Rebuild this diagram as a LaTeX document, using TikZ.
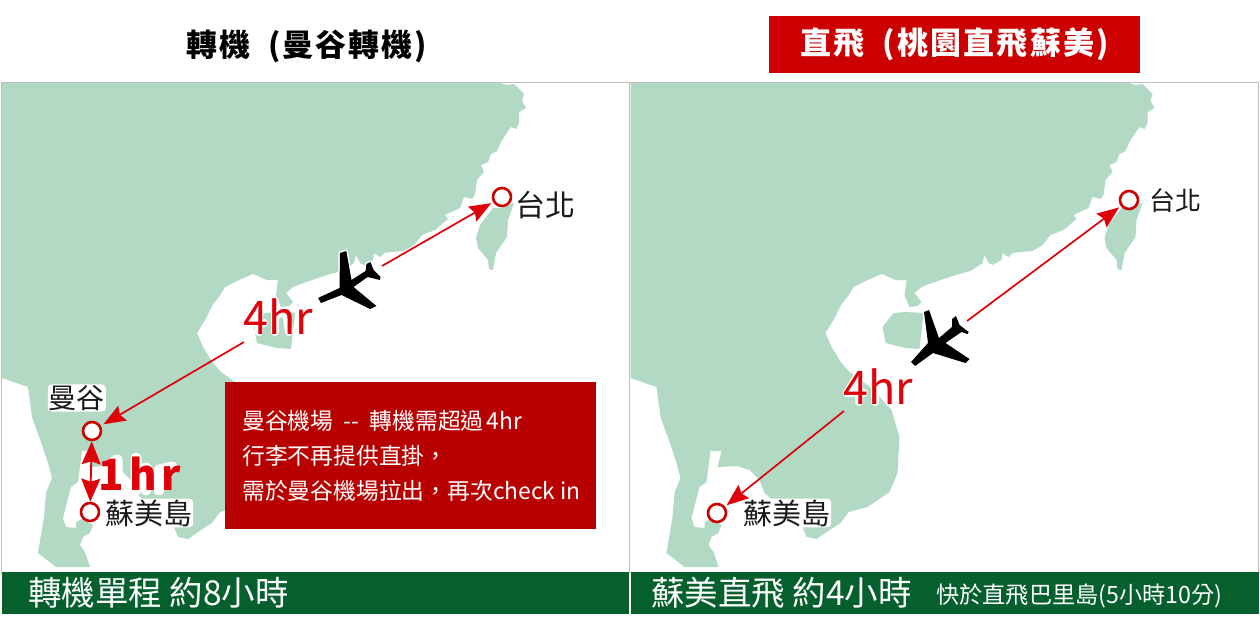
\documentclass[tikz,border=0pt]{standalone}
\usepackage{fontspec}
\setmainfont{Noto Sans CJK TC}[Script=CJK,Language=Chinese Traditional]
\definecolor{LandGreen}{RGB}{178,217,196}
\definecolor{BarGreen}{RGB}{5,96,45}
\definecolor{BoxRed}{RGB}{185,0,0}
\definecolor{HeadRed}{RGB}{204,0,0}
\definecolor{LineRed}{RGB}{224,0,10}
\definecolor{PanelGray}{RGB}{190,190,190}
\usetikzlibrary{arrows.meta}
\newcommand{\fsize}[1]{\fontsize{#1}{#1}\selectfont}
\newcommand{\maplandA}{
  \fill[LandGreen] (2,83) -- (500,83) -- (507,85) -- (514,84) -- (524,94) -- (522,101) -- (526,108)
    -- (519,112) -- (519,123) -- (516,129) -- (511,127) -- (502,140) -- (497,151) -- (491,154)
    -- (488,162) -- (481,165) -- (484,172) -- (477,180) -- (475,195) -- (472,199) -- (464,197)
    -- (460,208) -- (445,215) -- (448,219) -- (435,230) -- (422,235) -- (414,245) -- (404,251)
    -- (392,252) -- (384,253) -- (380,257) -- (374,253) -- (373,260) -- (364,265) -- (360,263)
    -- (356,255) -- (354,263) -- (342,271) -- (327,275) -- (309,281) -- (293,287) -- (286,293)
    -- (293,302) -- (289,306) -- (281,307) -- (276,295) -- (278,280) -- (267,280) -- (253,274)
    -- (237,281) -- (225,287) -- (219,297) -- (213,304) -- (205,320) -- (197,333) -- (203,347)
    -- (213,363) -- (221,372) -- (243,388) -- (263,410) -- (271,437) -- (269,473) -- (261,492)
    -- (239,507) -- (220,512) -- (212,523) -- (201,530) -- (188,539) -- (178,537) -- (174,527) -- (136,493)
    -- (131,480) -- (121,470) -- (109,466) -- (89,467) -- (93,451) -- (82,451) -- (78,482) -- (71,487)
    -- (63,518) -- (66,527) -- (76,528) -- (76,522) -- (82,519) -- (93,525) -- (90,533) -- (83,537)
    -- (80,545) -- (85,552) -- (90,567) -- (56,567) -- (38,553) -- (44,517) -- (46,493) -- (52,478)
    -- (48,463) -- (41,442) -- (32,417) -- (28,387) -- (2,378) -- cycle;
  % Hainan, Taiwan
  \fill[LandGreen] (265,313) -- (277,312) -- (295,313) -- (291,349) -- (277,348) -- (257,343) -- (254,327) -- cycle;
  \fill[LandGreen] (493,208) -- (501,208) -- (514,203) -- (508,220) -- (507,237) -- (496,253) -- (493,270)
    -- (489,269) -- (488,260) -- (478,248) -- (476,238) -- (480,225) -- cycle;
}
\newcommand{\fourhalo}{
  \draw[hrhalo] (259,303) -- (247,323) -- (264,323) (259,303) -- (259,332)
    (275,301) -- (275,332) (275,315) -- (286,312) -- (289,332) (302,332) -- (302,314) -- (311,312);
}
\tikzset{
  panelline/.style={draw=PanelGray,line width=0.8pt},
  headtext/.style={font=\fsize{31}\bfseries\addfontfeatures{LetterSpace=6},text=black,inner sep=0pt},
  headbox/.style={fill=HeadRed,text=white,font=\fsize{31}\bfseries\addfontfeatures{LetterSpace=7},minimum width=371,minimum height=57,inner sep=0pt},
  barcell/.style={fill=BarGreen,minimum width=#1,minimum height=42,inner sep=0pt},
  bartext/.style={text=white,anchor=west,inner sep=0pt},
  notebox/.style={fill=BoxRed,text=white,font=\fontsize{22.8}{35}\selectfont,minimum width=371,minimum height=147,
    inner sep=0pt,align=left},
  citylabel/.style={fill=white,rounded corners=4pt,inner sep=1pt,text=black!90},
  stopdot/.style={circle,draw=HeadRed,fill=white,line width=2.6pt,minimum size=18,inner sep=0pt},
  hrlabel/.style={text=LineRed,inner sep=0pt},
  hrhalo/.style={draw=white,line width=8pt,line cap=round,line join=round},
  flight/.style={draw=LineRed,line width=1.7pt,-{Stealth[length=22,width=17,inset=3]},shorten >=2pt},
  planeshape/.style={fill=black,preaction={draw=white,line width=3pt,line join=round}}
}
\begin{document}
\begin{tikzpicture}[x=1pt,y=-1pt]
  \useasboundingbox (0,0) rectangle (1260,632);
  \fill[white] (0,0) rectangle (1260,632);
  \maplandA
  \begin{scope}[xshift=628.5pt]
    \maplandA
  \end{scope}
  \draw[panelline] (1,82.5) rectangle (629,572);
  \draw[panelline] (629,82.5) rectangle (1258.5,572);

  \node[headtext] (headA) at (306.5,46) {轉機~~(曼谷轉機)};
  \node[headbox] (headB) at (954.5,44.5) {直飛~~(桃園直飛蘇美)};

  \node[barcell=627] (barA) at (315.5,593) {};
  \node[barcell=628] (barB) at (944.5,593) {};
  \node[bartext,font=\fsize{33.5}] (barAtext) at (28,593) {轉機單程 約8小時};
  \node[bartext,font=\fsize{33.5}] (barBtext) at (651,593) {蘇美直飛 約4小時};
  \node[bartext,font=\fsize{23.2}] (barBnote) at (936,596) {快於直飛巴里島(5小時10分)};

  % left panel
  \fourhalo
  \draw[hrhalo,line width=11pt] (108,466) -- (117,460) -- (117,490) (136,458) -- (136,490) (136,472) -- (146,468) -- (146,490)
    (159,490) -- (159,470) -- (172,467);
  \node[hrlabel,font=\fsize{45}] (hrA) at (278,317) {4hr};
  \node[hrlabel,font=\fsize{42}\bfseries\addfontfeatures{LetterSpace=12}] (hrC) at (140,474) {1hr};
  \node[citylabel,font=\fsize{30},anchor=west] (tpeAtext) at (514,205) {台北};
  \node[citylabel,font=\fsize{28},anchor=east] (bkktext) at (106,398) {曼谷};
  \node[citylabel,font=\fsize{29},anchor=west] (usmAtext) at (104,513) {蘇美島};
  \node[stopdot] (tpeA) at (502,197) {};
  \node[stopdot] (bkk) at (92,431) {};
  \node[stopdot] (usmA) at (90,512) {};
  \coordinate (planeA) at (382,266);
  \coordinate (lineA) at (244,342);
  \draw[flight] (planeA) -- (tpeA);
  \draw[flight,shorten >=3pt] (lineA) -- (bkk);
  \draw[draw=LineRed,line width=1.8pt,{Stealth[length=23,width=19,inset=3]}-{Stealth[length=23,width=19,inset=3]}] (bkk) -- (usmA);
  \path[planeshape] (318,298) -- (321,303) -- (341.5,295) -- (370,309) -- (376.5,306) -- (353.5,287)
    -- (367.6,277) -- (380,280) -- (380.5,277) -- (373.6,270) -- (370.4,262) -- (366.4,264)
    -- (365.6,271) -- (351.5,280) -- (346.3,251) -- (340,253) -- (339.5,288) -- cycle;
  \node[notebox] (noteA) at (410.5,455.5) {\hspace{2pt}曼谷機場~~-{}-~~轉機需超過\hspace{3pt}4hr\\\hspace{2pt}行李不再提供直掛，\\\hspace{2pt}需於曼谷機場拉出，再次check in};

  % right panel
  \begin{scope}[xshift=600pt,yshift=-70pt]
    \fourhalo
  \end{scope}
  \node[hrlabel,font=\fsize{45}] (hrB) at (878,387) {4hr};
  \node[citylabel,font=\fsize{26},anchor=west,fill=none] (tpeBtext) at (1148,201) {台北};
  \node[citylabel,font=\fsize{29},anchor=west] (usmBtext) at (742,513) {蘇美島};
  \node[stopdot] (tpeB) at (1129,200) {};
  \node[stopdot] (usmB) at (717,513) {};
  \coordinate (planeB) at (967,321);
  \coordinate (lineB) at (844,411);
  \draw[flight] (planeB) -- (tpeB);
  \draw[flight] (lineB) -- (usmB);
  \path[planeshape] (911,362) -- (915,366) -- (933,353) -- (965.5,363) -- (969.5,359) -- (945.4,343)
    -- (961.5,332) -- (967.5,334) -- (968.7,332) -- (959.5,325) -- (956,316) -- (952,319)
    -- (952,327) -- (939,338) -- (929,310) -- (924,312) -- (928,343) -- cycle;
\end{tikzpicture}
\end{document}
